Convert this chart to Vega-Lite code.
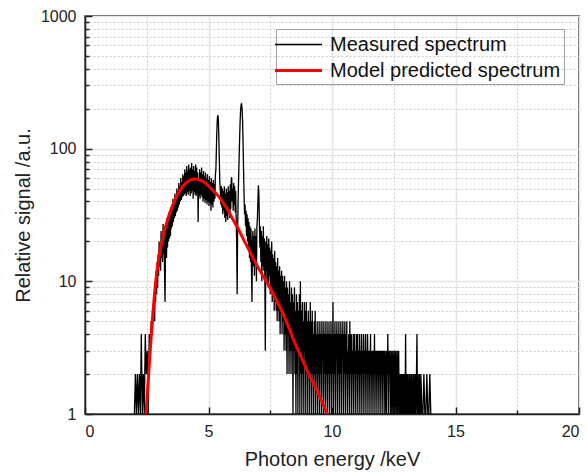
{
 "$schema": "https://vega.github.io/schema/vega-lite/v6.json",
 "width": 494,
 "height": 398,
 "autosize": "none",
 "padding": {"left": 85, "top": 16, "right": 8, "bottom": 58},
 "background": "white",
 "config": {
  "font": "Liberation Sans",
  "view": {"stroke": "#222222", "strokeWidth": 1.5},
  "axis": {"labelFont": "Liberation Sans", "titleFont": "Liberation Sans", "labelFontSize": 16, "titleFontSize": 20, "titleFontWeight": "normal", "labelColor": "#222222", "titleColor": "#222222", "tickColor": "#222222", "domainColor": "#222222"},
  "legend": {"orient": "none", "legendX": 191, "legendY": 13, "symbolType": "M-2,0H2", "symbolSize": 552, "symbolOffset": 6, "labelFontSize": 20, "labelFont": "Liberation Sans", "labelColor": "#111111", "labelLimit": 400, "strokeColor": "#a0a0a0", "padding": 3, "rowPadding": 2, "labelOffset": 18}
 },
 "datasets": {
  "m": [
   {"e":2.00,"c":1},{"e":2.04,"c":2},{"e":2.08,"c":1},{"e":2.12,"c":2},{"e":2.16,"c":1},{"e":2.20,"c":2},{"e":2.24,"c":1},{"e":2.28,"c":4},{"e":2.32,"c":1},{"e":2.36,"c":2},{"e":2.40,"c":1},{"e":2.44,"c":4},{"e":2.48,"c":2},{"e":2.52,"c":3},{"e":2.56,"c":1},{"e":2.60,"c":4},{"e":2.64,"c":3},{"e":2.68,"c":5},{"e":2.72,"c":4},{"e":2.76,"c":6},
   {"e":2.80,"c":8},{"e":2.82,"c":5},{"e":2.84,"c":10},{"e":2.86,"c":7},{"e":2.88,"c":12},{"e":2.90,"c":8},{"e":2.92,"c":14},{"e":2.94,"c":9},{"e":2.96,"c":16},{"e":2.98,"c":11},
   {"e":3.00,"c":20},{"e":3.02,"c":13},{"e":3.04,"c":18},{"e":3.06,"c":12},{"e":3.08,"c":24},{"e":3.10,"c":15},{"e":3.12,"c":22},{"e":3.14,"c":14},{"e":3.16,"c":27},{"e":3.18,"c":16},
   {"e":3.20,"c":24},{"e":3.22,"c":12},{"e":3.24,"c":7},{"e":3.26,"c":18},{"e":3.28,"c":26},{"e":3.30,"c":15},{"e":3.32,"c":30},{"e":3.34,"c":18},{"e":3.36,"c":28},{"e":3.38,"c":20},
   {"e":3.40,"c":33},{"e":3.42,"c":21},{"e":3.44,"c":30},{"e":3.46,"c":22},{"e":3.48,"c":36},{"e":3.50,"c":25},{"e":3.52,"c":38},{"e":3.54,"c":26},{"e":3.56,"c":42},{"e":3.58,"c":28},
   {"e":3.60,"c":40},{"e":3.62,"c":30},{"e":3.64,"c":46},{"e":3.66,"c":31},{"e":3.68,"c":44},{"e":3.70,"c":33},{"e":3.72,"c":50},{"e":3.74,"c":34},{"e":3.76,"c":48},{"e":3.78,"c":36},
   {"e":3.80,"c":55},{"e":3.82,"c":38},{"e":3.84,"c":52},{"e":3.86,"c":40},{"e":3.88,"c":60},{"e":3.90,"c":41},{"e":3.92,"c":56},{"e":3.94,"c":43},{"e":3.96,"c":64},{"e":3.98,"c":44},
   {"e":4.00,"c":62},{"e":4.02,"c":45},{"e":4.04,"c":70},{"e":4.06,"c":46},{"e":4.08,"c":66},{"e":4.10,"c":44},{"e":4.12,"c":74},{"e":4.14,"c":47},{"e":4.16,"c":68},{"e":4.18,"c":45},
   {"e":4.20,"c":76},{"e":4.22,"c":48},{"e":4.24,"c":70},{"e":4.26,"c":44},{"e":4.28,"c":72},{"e":4.30,"c":46},{"e":4.32,"c":78},{"e":4.34,"c":48},{"e":4.36,"c":70},{"e":4.38,"c":42},
   {"e":4.40,"c":74},{"e":4.42,"c":47},{"e":4.44,"c":68},{"e":4.46,"c":45},{"e":4.48,"c":76},{"e":4.50,"c":44},{"e":4.52,"c":72},{"e":4.54,"c":46},{"e":4.56,"c":66},{"e":4.58,"c":28},
   {"e":4.60,"c":60},{"e":4.62,"c":44},{"e":4.64,"c":70},{"e":4.66,"c":42},{"e":4.68,"c":66},{"e":4.70,"c":45},{"e":4.72,"c":72},{"e":4.74,"c":43},{"e":4.76,"c":64},{"e":4.78,"c":40},
   {"e":4.80,"c":68},{"e":4.82,"c":42},{"e":4.84,"c":62},{"e":4.86,"c":39},{"e":4.88,"c":66},{"e":4.90,"c":41},{"e":4.92,"c":60},{"e":4.94,"c":38},{"e":4.96,"c":64},{"e":4.98,"c":40},
   {"e":5.00,"c":58},{"e":5.02,"c":37},{"e":5.04,"c":62},{"e":5.06,"c":39},{"e":5.08,"c":56},{"e":5.10,"c":34},{"e":5.12,"c":60},{"e":5.14,"c":38},{"e":5.16,"c":55},{"e":5.18,"c":36},
   {"e":5.20,"c":58},{"e":5.22,"c":40},{"e":5.24,"c":54},{"e":5.26,"c":42},{"e":5.28,"c":64},{"e":5.30,"c":70},{"e":5.32,"c":100},{"e":5.34,"c":140},{"e":5.36,"c":170},{"e":5.38,"c":179},
   {"e":5.40,"c":165},{"e":5.42,"c":120},{"e":5.44,"c":80},{"e":5.46,"c":55},{"e":5.48,"c":48},{"e":5.50,"c":38},{"e":5.52,"c":52},{"e":5.54,"c":36},{"e":5.56,"c":50},{"e":5.58,"c":32},
   {"e":5.60,"c":48},{"e":5.62,"c":34},{"e":5.64,"c":52},{"e":5.66,"c":30},{"e":5.68,"c":46},{"e":5.70,"c":28},{"e":5.72,"c":50},{"e":5.74,"c":31},{"e":5.76,"c":47},{"e":5.78,"c":29},
   {"e":5.80,"c":52},{"e":5.82,"c":33},{"e":5.84,"c":48},{"e":5.86,"c":30},{"e":5.88,"c":54},{"e":5.90,"c":35},{"e":5.92,"c":58},{"e":5.94,"c":61},{"e":5.96,"c":40},{"e":5.98,"c":50},
   {"e":6.00,"c":34},{"e":6.02,"c":55},{"e":6.04,"c":38},{"e":6.06,"c":52},{"e":6.08,"c":33},{"e":6.10,"c":48},{"e":6.12,"c":30},{"e":6.14,"c":20},{"e":6.16,"c":8},{"e":6.18,"c":25},
   {"e":6.20,"c":42},{"e":6.22,"c":60},{"e":6.24,"c":85},{"e":6.26,"c":120},{"e":6.28,"c":160},{"e":6.30,"c":195},{"e":6.32,"c":215},{"e":6.34,"c":220},{"e":6.36,"c":200},{"e":6.38,"c":160},
   {"e":6.40,"c":110},{"e":6.42,"c":70},{"e":6.44,"c":45},{"e":6.46,"c":32},{"e":6.48,"c":38},{"e":6.50,"c":26},{"e":6.52,"c":34},{"e":6.54,"c":22},{"e":6.56,"c":32},{"e":6.58,"c":20},
   {"e":6.60,"c":30},{"e":6.62,"c":18},{"e":6.64,"c":28},{"e":6.66,"c":15},{"e":6.68,"c":26},{"e":6.70,"c":14},{"e":6.72,"c":25},{"e":6.74,"c":12},{"e":6.76,"c":7},{"e":6.78,"c":20},
   {"e":6.80,"c":24},{"e":6.82,"c":13},{"e":6.84,"c":22},{"e":6.86,"c":11},{"e":6.88,"c":25},{"e":6.90,"c":14},{"e":6.92,"c":22},{"e":6.94,"c":10},{"e":6.96,"c":26},{"e":6.98,"c":30},
   {"e":7.00,"c":40},{"e":7.02,"c":53},{"e":7.04,"c":45},{"e":7.06,"c":28},{"e":7.08,"c":18},{"e":7.10,"c":26},{"e":7.12,"c":14},{"e":7.14,"c":24},{"e":7.16,"c":10},{"e":7.18,"c":22},
   {"e":7.20,"c":13},{"e":7.22,"c":26},{"e":7.24,"c":12},{"e":7.26,"c":21},{"e":7.28,"c":11},{"e":7.30,"c":3},{"e":7.32,"c":20},{"e":7.34,"c":12},{"e":7.36,"c":22},{"e":7.38,"c":10},
   {"e":7.40,"c":19},{"e":7.42,"c":9},{"e":7.44,"c":21},{"e":7.46,"c":11},{"e":7.48,"c":18},{"e":7.50,"c":8},{"e":7.52,"c":17},{"e":7.54,"c":9},{"e":7.56,"c":20},{"e":7.58,"c":7},
   {"e":7.60,"c":16},{"e":7.62,"c":8},{"e":7.64,"c":15},{"e":7.66,"c":6},{"e":7.68,"c":17},{"e":7.70,"c":7},{"e":7.72,"c":14},{"e":7.74,"c":6},{"e":7.76,"c":13},{"e":7.78,"c":5},
   {"e":7.80,"c":15},{"e":7.82,"c":6},{"e":7.84,"c":12},{"e":7.86,"c":5},{"e":7.88,"c":13},{"e":7.90,"c":4},{"e":7.92,"c":11},{"e":7.94,"c":6},{"e":7.96,"c":12},{"e":7.98,"c":4},
   {"e":8.00,"c":11},{"e":8.02,"c":5},{"e":8.04,"c":10},{"e":8.06,"c":3},{"e":8.08,"c":11},{"e":8.10,"c":4},{"e":8.12,"c":9},{"e":8.14,"c":3},{"e":8.16,"c":10},{"e":8.18,"c":2},
   {"e":8.20,"c":9},{"e":8.22,"c":4},{"e":8.24,"c":8},{"e":8.26,"c":2},{"e":8.28,"c":10},{"e":8.30,"c":3},{"e":8.32,"c":7},{"e":8.34,"c":2},{"e":8.36,"c":9},{"e":8.38,"c":3},
   {"e":8.40,"c":8},{"e":8.42,"c":1},{"e":8.44,"c":7},{"e":8.46,"c":3},{"e":8.48,"c":9},{"e":8.50,"c":2},{"e":8.52,"c":6},{"e":8.54,"c":1},{"e":8.56,"c":8},{"e":8.58,"c":2},
   {"e":8.60,"c":7},{"e":8.62,"c":1},{"e":8.64,"c":6},{"e":8.66,"c":3},{"e":8.68,"c":8},{"e":8.70,"c":1},{"e":8.72,"c":10},{"e":8.74,"c":2},{"e":8.76,"c":6},{"e":8.78,"c":1},
   {"e":8.80,"c":7},{"e":8.82,"c":2},{"e":8.84,"c":5},{"e":8.86,"c":1},{"e":8.88,"c":7},{"e":8.90,"c":3},{"e":8.92,"c":6},{"e":8.94,"c":1},{"e":8.96,"c":7},{"e":8.98,"c":2},
   {"e":9.00,"c":5},{"e":9.02,"c":1},{"e":9.04,"c":6},{"e":9.06,"c":2},{"e":9.08,"c":5},{"e":9.10,"c":1},{"e":9.12,"c":7},{"e":9.14,"c":2},{"e":9.16,"c":5},{"e":9.18,"c":1},
   {"e":9.20,"c":6},{"e":9.22,"c":2},{"e":9.24,"c":4},{"e":9.26,"c":1},{"e":9.28,"c":5},{"e":9.30,"c":2},{"e":9.32,"c":6},{"e":9.34,"c":1},{"e":9.36,"c":4},{"e":9.38,"c":2},
   {"e":9.40,"c":5},{"e":9.42,"c":1},{"e":9.44,"c":4},{"e":9.46,"c":2},{"e":9.48,"c":5},{"e":9.50,"c":1},{"e":9.52,"c":4},{"e":9.54,"c":2},{"e":9.56,"c":5},{"e":9.58,"c":1},
   {"e":9.60,"c":4},{"e":9.62,"c":3},{"e":9.64,"c":5},{"e":9.66,"c":1},{"e":9.68,"c":4},{"e":9.70,"c":2},{"e":9.72,"c":5},{"e":9.74,"c":1},{"e":9.76,"c":4},{"e":9.78,"c":2},
   {"e":9.80,"c":5},{"e":9.82,"c":1},{"e":9.84,"c":4},{"e":9.86,"c":2},{"e":9.88,"c":5},{"e":9.90,"c":1},{"e":9.92,"c":4},{"e":9.94,"c":2},{"e":9.96,"c":5},{"e":9.98,"c":1},
   {"e":10.00,"c":4},{"e":10.02,"c":2},{"e":10.04,"c":7},{"e":10.06,"c":1},{"e":10.08,"c":4},{"e":10.10,"c":2},{"e":10.12,"c":5},{"e":10.14,"c":1},{"e":10.16,"c":4},{"e":10.18,"c":3},
   {"e":10.20,"c":5},{"e":10.22,"c":1},{"e":10.24,"c":4},{"e":10.26,"c":2},{"e":10.28,"c":5},{"e":10.30,"c":1},{"e":10.32,"c":4},{"e":10.34,"c":2},{"e":10.36,"c":5},{"e":10.38,"c":1},
   {"e":10.40,"c":4},{"e":10.42,"c":3},{"e":10.44,"c":5},{"e":10.46,"c":1},{"e":10.48,"c":4},{"e":10.50,"c":2},{"e":10.52,"c":5},{"e":10.54,"c":1},{"e":10.56,"c":4},{"e":10.58,"c":2},
   {"e":10.60,"c":5},{"e":10.62,"c":1},{"e":10.64,"c":3},{"e":10.66,"c":2},{"e":10.68,"c":4},{"e":10.70,"c":1},{"e":10.72,"c":5},{"e":10.74,"c":2},{"e":10.76,"c":4},{"e":10.78,"c":1},
   {"e":10.80,"c":4},{"e":10.82,"c":2},{"e":10.84,"c":3},{"e":10.86,"c":1},{"e":10.88,"c":4},{"e":10.90,"c":2},{"e":10.92,"c":4},{"e":10.94,"c":1},{"e":10.96,"c":3},{"e":10.98,"c":2},
   {"e":11.00,"c":4},{"e":11.02,"c":1},{"e":11.04,"c":4},{"e":11.06,"c":2},{"e":11.08,"c":3},{"e":11.10,"c":1},{"e":11.12,"c":4},{"e":11.14,"c":2},{"e":11.16,"c":3},{"e":11.18,"c":1},
   {"e":11.20,"c":4},{"e":11.22,"c":2},{"e":11.24,"c":3},{"e":11.26,"c":1},{"e":11.28,"c":4},{"e":11.30,"c":2},{"e":11.32,"c":3},{"e":11.34,"c":1},{"e":11.36,"c":4},{"e":11.38,"c":2},
   {"e":11.40,"c":3},{"e":11.42,"c":1},{"e":11.44,"c":4},{"e":11.46,"c":2},{"e":11.48,"c":3},{"e":11.50,"c":1},{"e":11.52,"c":3},{"e":11.54,"c":2},{"e":11.56,"c":4},{"e":11.58,"c":1},
   {"e":11.60,"c":3},{"e":11.62,"c":2},{"e":11.64,"c":3},{"e":11.66,"c":1},{"e":11.68,"c":3},{"e":11.70,"c":2},{"e":11.72,"c":4},{"e":11.74,"c":1},{"e":11.76,"c":3},{"e":11.78,"c":2},
   {"e":11.80,"c":3},{"e":11.82,"c":1},{"e":11.84,"c":3},{"e":11.86,"c":2},{"e":11.88,"c":3},{"e":11.90,"c":1},{"e":11.92,"c":3},{"e":11.94,"c":2},{"e":11.96,"c":3},{"e":11.98,"c":1},
   {"e":12.00,"c":3},{"e":12.02,"c":2},{"e":12.04,"c":3},{"e":12.06,"c":1},{"e":12.08,"c":3},{"e":12.10,"c":2},{"e":12.12,"c":3},{"e":12.14,"c":1},{"e":12.16,"c":2},{"e":12.18,"c":3},
   {"e":12.20,"c":1},{"e":12.22,"c":3},{"e":12.24,"c":2},{"e":12.26,"c":4},{"e":12.28,"c":1},{"e":12.30,"c":3},{"e":12.32,"c":2},{"e":12.34,"c":3},{"e":12.36,"c":1},{"e":12.38,"c":2},
   {"e":12.40,"c":3},{"e":12.42,"c":1},{"e":12.44,"c":2},{"e":12.46,"c":3},{"e":12.48,"c":1},{"e":12.50,"c":2},{"e":12.52,"c":3},{"e":12.54,"c":1},{"e":12.56,"c":2},{"e":12.58,"c":3},
   {"e":12.60,"c":1},{"e":12.62,"c":2},{"e":12.64,"c":3},{"e":12.66,"c":1},{"e":12.68,"c":2},{"e":12.70,"c":3},{"e":12.72,"c":1},{"e":12.74,"c":2},{"e":12.76,"c":1},{"e":12.78,"c":2},
   {"e":12.80,"c":1},{"e":12.82,"c":2},{"e":12.84,"c":1},{"e":12.86,"c":2},{"e":12.88,"c":1},{"e":12.90,"c":2},{"e":12.92,"c":1},{"e":12.94,"c":2},{"e":12.96,"c":1},{"e":12.98,"c":4},
   {"e":13.00,"c":1},{"e":13.02,"c":2},{"e":13.04,"c":1},{"e":13.06,"c":2},{"e":13.08,"c":1},{"e":13.10,"c":1},{"e":13.12,"c":2},{"e":13.14,"c":1},{"e":13.16,"c":2},{"e":13.18,"c":1},
   {"e":13.20,"c":1},{"e":13.22,"c":2},{"e":13.24,"c":1},{"e":13.26,"c":1},{"e":13.28,"c":2},{"e":13.30,"c":1},{"e":13.32,"c":2},{"e":13.34,"c":1},{"e":13.36,"c":1},{"e":13.38,"c":2},
   {"e":13.40,"c":1},{"e":13.42,"c":2},{"e":13.44,"c":4},{"e":13.46,"c":1},{"e":13.48,"c":2},{"e":13.50,"c":1},{"e":13.52,"c":1},{"e":13.54,"c":2},{"e":13.56,"c":1},{"e":13.58,"c":1},
   {"e":13.60,"c":2},{"e":13.64,"c":1},{"e":13.68,"c":1},{"e":13.72,"c":2},{"e":13.76,"c":1},{"e":13.80,"c":1},{"e":13.84,"c":2},{"e":13.88,"c":1},{"e":13.92,"c":1},{"e":13.96,"c":2},{"e":14.00,"c":1}
  ],
  "p": [
   {"e":2.47,"v":1.0},{"e":2.55,"v":1.7},{"e":2.65,"v":3.2},{"e":2.75,"v":5.8},{"e":2.85,"v":9.5},{"e":2.95,"v":13.5},{"e":3.05,"v":17.5},{"e":3.2,"v":23.5},{"e":3.35,"v":29.5},{"e":3.5,"v":35.5},{"e":3.65,"v":41.5},{"e":3.8,"v":47},{"e":3.95,"v":52},{"e":4.1,"v":55.5},{"e":4.25,"v":58},{"e":4.4,"v":59},{"e":4.55,"v":58.8},{"e":4.7,"v":57.5},{"e":4.85,"v":55.5},{"e":5.0,"v":52.5},{"e":5.2,"v":48},{"e":5.4,"v":44},{"e":5.6,"v":39},{"e":5.8,"v":34},{"e":6.0,"v":29},{"e":6.2,"v":25},{"e":6.4,"v":21},{"e":6.6,"v":17.8},{"e":6.8,"v":15},{"e":7.0,"v":12.8},{"e":7.2,"v":11},{"e":7.4,"v":9.6},{"e":7.6,"v":8.2},{"e":7.8,"v":6.9},{"e":8.0,"v":5.8},{"e":8.25,"v":4.5},{"e":8.5,"v":3.4},{"e":8.75,"v":2.7},{"e":9.0,"v":2.1},{"e":9.25,"v":1.7},{"e":9.5,"v":1.35},{"e":9.65,"v":1.17},{"e":9.8,"v":1.0}
  ]
 },
 "layer": [
  {
   "data": {"name": "m"},
   "mark": {"type": "line", "clip": true},
   "encoding": {
    "x": {"field": "e", "type": "quantitative", "scale": {"domain": [0, 20], "nice": false, "zero": false},
          "axis": {"orient": "bottom", "values": [2.5, 7.5, 12.5, 17.5], "labels": false, "domain": false, "title": null, "grid": true, "gridDash": [2, 2], "gridColor": "#cccccc", "gridWidth": 1, "tickSize": -4, "tickWidth": 1.5}},
    "y": {"field": "c", "type": "quantitative", "scale": {"type": "log", "domain": [1, 1000], "nice": false},
          "axis": {"orient": "left", "values": [2,3,4,5,6,7,8,9,20,30,40,50,60,70,80,90,200,300,400,500,600,700,800,900], "labels": false, "domain": false, "title": null, "grid": true, "gridDash": [2, 2], "gridColor": "#cccccc", "gridWidth": 1, "tickSize": -4, "tickWidth": 1.5}},
    "color": {"datum": "Measured spectrum", "type": "nominal", "scale": {"domain": ["Measured spectrum", "Model predicted spectrum"], "range": ["#000000", "#ff0000"]}, "legend": {"title": null}},
    "strokeWidth": {"datum": "Measured spectrum", "type": "ordinal", "scale": {"domain": ["Measured spectrum", "Model predicted spectrum"], "range": [1.3, 3]}, "legend": {"title": null}}
   }
  },
  {
   "data": {"name": "p"},
   "mark": {"type": "line", "clip": true},
   "encoding": {
    "x": {"field": "e", "type": "quantitative", "scale": {"domain": [0, 20], "nice": false, "zero": false},
          "axis": {"orient": "bottom", "values": [0, 5, 10, 15, 20], "format": "d", "title": "Photon energy /keV", "grid": true, "gridColor": "#e4e4e4", "gridWidth": 1.5, "tickSize": -7, "tickWidth": 1.5, "domainWidth": 1.5, "labelPadding": 16, "titlePadding": 10}},
    "y": {"field": "v", "type": "quantitative", "scale": {"type": "log", "domain": [1, 1000], "nice": false},
          "axis": {"orient": "left", "values": [1, 10, 100, 1000], "format": "d", "title": "Relative signal /a.u.", "grid": true, "gridColor": "#e4e4e4", "gridWidth": 1.5, "tickSize": -7, "tickWidth": 1.5, "domainWidth": 1.5, "labelPadding": 16, "titlePadding": 7}},
    "color": {"datum": "Model predicted spectrum", "type": "nominal"},
    "strokeWidth": {"datum": "Model predicted spectrum", "type": "ordinal"}
   }
  }
 ],
 "resolve": {"axis": {"x": "independent", "y": "independent"}}
}
